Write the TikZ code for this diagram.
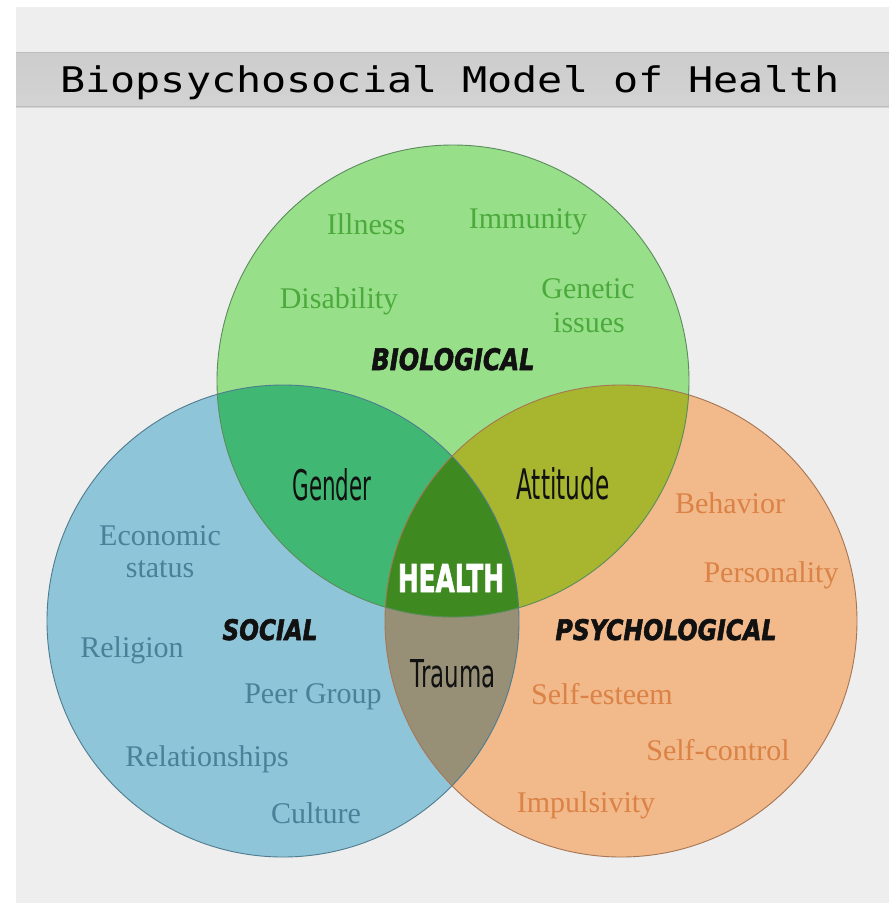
\documentclass[tikz,border=0pt]{standalone}
\usepackage{fontspec}
\setmainfont{Liberation Serif}
\setsansfont{DejaVu Sans}
\setmonofont{DejaVu Sans Mono}
\newfontfamily\heavyfont{DejaVu Sans}[FakeBold=2.2]
\usepackage{graphicx}

% palette
\definecolor{pagebg}{HTML}{EEEEEE}
\definecolor{barA}{HTML}{CDCDCD}
\definecolor{barB}{HTML}{E6E6E6}
\definecolor{barC}{HTML}{D3D3D3}
\definecolor{barline}{HTML}{BDBDBD}
\definecolor{bioFill}{HTML}{98DF8A}
\definecolor{socFill}{HTML}{8FC5D9}
\definecolor{psyFill}{HTML}{F2B98A}
\definecolor{bioSoc}{HTML}{40B873}
\definecolor{bioPsy}{HTML}{A7B52F}
\definecolor{socPsy}{HTML}{979077}
\definecolor{core}{HTML}{3F8A20}
\definecolor{bioLine}{HTML}{5A8C5C}
\definecolor{socLine}{HTML}{4E7C8E}
\definecolor{psyLine}{HTML}{A67553}
\definecolor{bioText}{HTML}{4CAA3C}
\definecolor{socText}{HTML}{4A8098}
\definecolor{psyText}{HTML}{DB8246}
\definecolor{ink}{HTML}{111111}

% scale a piece of text to a given width and height
\newcommand{\fitto}[3]{\resizebox{#1}{#2}{#3}}

\begin{document}
\begin{tikzpicture}[x=1pt,y=-1pt,
  item/.style={font=\fontsize{30}{32}\selectfont, inner sep=0pt, anchor=base},
  bioitem/.style={item, text=bioText},
  socitem/.style={item, text=socText},
  psyitem/.style={item, text=psyText},
  sphere/.style={inner sep=0pt, anchor=base, text=ink, font=\heavyfont\bfseries\itshape},
  overlap/.style={inner sep=0pt, anchor=base, text=ink, font=\sffamily},
  ring/.style={line width=0.9pt}]

\def\R{236pt}
\useasboundingbox (0,0) rectangle (889,903);
\fill[white] (0,0) rectangle (889,903);
\fill[pagebg] (16,7) rectangle (889,903);

% title bar
\shade[top color=barA, middle color=barB, bottom color=barC] (16,52) rectangle (889,107);
\draw[barline, line width=1.2pt] (16,52.5) -- (889,52.5);
\draw[barline, line width=0.8pt] (16,106.5) -- (889,106.5);
\node[inner sep=0pt, anchor=base] (title) at (450,92)
  {\fitto{779pt}{27pt}{\ttfamily Biopsychosocial Model of Health}};

% circle centres
\coordinate (bio) at (453,381);
\coordinate (soc) at (283,621);
\coordinate (psy) at (621,621);

% base discs
\fill[socFill] (soc) circle[radius=\R];
\fill[psyFill] (psy) circle[radius=\R];
\fill[bioFill] (bio) circle[radius=\R];

% pairwise overlaps
\begin{scope}
  \clip (bio) circle[radius=\R];
  \fill[bioSoc] (soc) circle[radius=\R];
  \fill[bioPsy] (psy) circle[radius=\R];
\end{scope}
\begin{scope}
  \clip (soc) circle[radius=\R];
  \fill[socPsy] (psy) circle[radius=\R];
\end{scope}
% common core
\begin{scope}
  \clip (bio) circle[radius=\R];
  \clip (soc) circle[radius=\R];
  \fill[core] (psy) circle[radius=\R];
\end{scope}

% outlines
\draw[ring, socLine] (soc) circle[radius=\R];
\draw[ring, psyLine] (psy) circle[radius=\R];
\draw[ring, bioLine] (bio) circle[radius=\R];

% biological
\node[bioitem] (illness) at (366,234) {Illness};
\node[bioitem] (immunity) at (528,228) {Immunity};
\node[bioitem] (disability) at (339,308) {Disability};
\node[bioitem] (genetic) at (588,298) {Genetic};
\node[bioitem] (issues) at (589,332) {issues};
\node[sphere] (biolabel) at (453,370) {\fitto{163pt}{22pt}{BIOLOGICAL}};

% social
\node[socitem] (economic) at (160,545) {Economic};
\node[socitem] (status) at (160,577) {status};
\node[sphere] (soclabel) at (270,640) {\fitto{95pt}{21pt}{SOCIAL}};
\node[socitem] (religion) at (132,657) {Religion};
\node[socitem] (peer) at (313,703) {Peer Group};
\node[socitem] (relations) at (207,766) {Relationships};
\node[socitem] (culture) at (316,823) {Culture};

% psychological
\node[psyitem] (behavior) at (730,513) {Behavior};
\node[psyitem] (personality) at (771,582) {Personality};
\node[sphere] (psylabel) at (666,640) {\fitto{221pt}{21pt}{PSYCHOLOGICAL}};
\node[psyitem] (esteem) at (602,704) {Self-esteem};
\node[psyitem] (control) at (718,760) {Self-control};
\node[psyitem] (impulse) at (586,812) {Impulsivity};

% overlaps
\node[overlap] (gender) at (332,500) {\fitto{79pt}{32pt}{Gender}};
\node[overlap] (attitude) at (563,499) {\fitto{93pt}{32pt}{Attitude}};
\node[overlap] (trauma) at (453,687) {\fitto{85pt}{28pt}{Trauma}};
\node[overlap, text=white, font=\heavyfont\bfseries] (health) at (451,592)
  {\fitto{106pt}{28pt}{HEALTH}};
\end{tikzpicture}
\end{document}
